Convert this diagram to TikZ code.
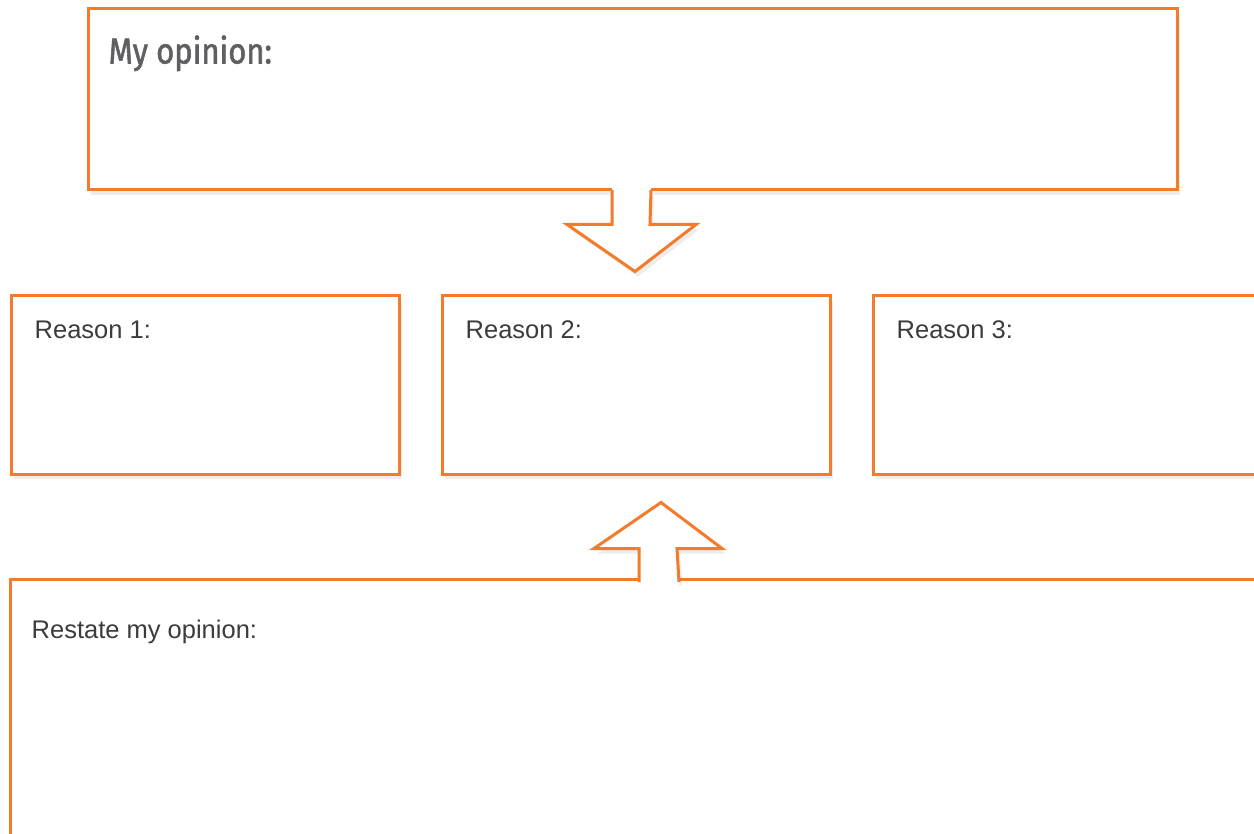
\documentclass[tikz,border=0pt]{standalone}
\usepackage{fontspec}
\setmainfont{Liberation Sans}
\newfontfamily\handfont[FakeStretch=0.86,FakeBold=1.5]{Fira Sans}
\usetikzlibrary{calc,shadows}
\definecolor{opor}{HTML}{F37B2A}
\definecolor{optx}{HTML}{3C3C3C}
\definecolor{ophd}{HTML}{5E5F62}

\begin{document}
\begin{tikzpicture}[x=1pt,y=-1pt,
  b/.style={draw=opor,line width=3pt,fill=white,inner sep=0pt,
            drop shadow={shadow xshift=3pt,shadow yshift=-5pt,opacity=.14}},
  t/.style={anchor=base west,inner sep=0pt,color=optx,font=\fontsize{25.5}{30}\selectfont},
  h/.style={anchor=base west,inner sep=0pt,color=ophd,font=\handfont\fontsize{36}{40}\selectfont},
  ar/.style={draw=opor,line width=3pt,line join=miter},
  af/.style={fill=white,drop shadow={shadow xshift=3pt,shadow yshift=-5pt,opacity=.14}}]
\useasboundingbox (0,0) rectangle (1254,834);
\clip (0,0) rectangle (1254,834);
\fill[white] (0,0) rectangle (1254,834);
% boxes
\node[b,minimum width=1089pt,minimum height=181pt] (op) at (632.5,99.5) {};
\foreach \i/\x in {1/205,2/636,3/1067}
  \node[b,minimum width=388pt,minimum height=178pt] (r\i) at (\x,385) {};
\node[b,minimum width=1270pt,minimum height=300pt] (rs) at (645,729) {};
% block arrow down, opinion -> reasons
\coordinate (d) at (op.south);
\path[af] ($(d)+(-20.5,0)$) -- ($(d)+(-20.5,33)$) -- ($(d)+(-65.5,33)$) -- ($(d)+(2.5,80)$)
  -- ($(d)+(63.5,33)$) -- ($(d)+(17.5,33)$) -- ($(d)+(18.5,0)$) -- cycle;
\fill[white] ($(d)+(-20.5,-3)$) rectangle ($(d)+(18.5,3)$);
\draw[ar] ($(d)+(-20.5,-1.5)$) -- ($(d)+(-20.5,33)$) -- ($(d)+(-65.5,33)$) -- ($(d)+(2.5,80)$)
  -- ($(d)+(63.5,33)$) -- ($(d)+(17.5,33)$) -- ($(d)+(18.5,-1.5)$);
% block arrow up, restate -> reasons
\coordinate (u) at (r2.south);
\path[af] ($(u)+(3,105)$) -- ($(u)+(3,73)$) -- ($(u)+(-42,73)$) -- ($(u)+(25,27)$)
  -- ($(u)+(86,73)$) -- ($(u)+(41,73)$) -- ($(u)+(43,105)$) -- cycle;
\fill[white] ($(u)+(3,102)$) rectangle ($(u)+(43,112)$);
\draw[ar] ($(u)+(3,106.5)$) -- ($(u)+(3,73)$) -- ($(u)+(-42,73)$) -- ($(u)+(25,27)$)
  -- ($(u)+(86,73)$) -- ($(u)+(41,73)$) -- ($(u)+(43,106.5)$);
% texts
\node[h] (oph) at ($(op.north west)+(22,56)$) {My opinion:};
\foreach \i in {1,2,3}
  \node[t] (r\i t) at ($(r\i.north west)+(25,44)$) {Reason \i:};
\node[t] (rst) at ($(rs.north west)+(23,61)$) {Restate my opinion:};
\end{tikzpicture}
\end{document}
